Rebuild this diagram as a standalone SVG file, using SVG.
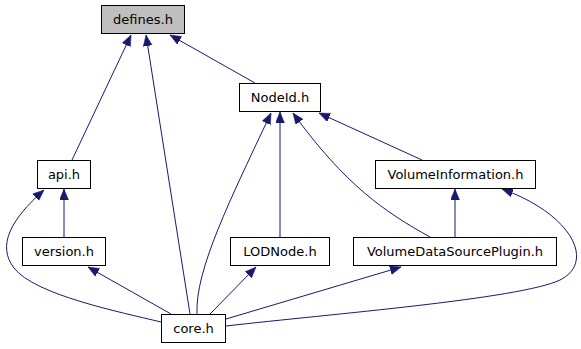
<svg xmlns="http://www.w3.org/2000/svg" width="581" height="349" viewBox="0 0 581 349">
  <style>
    .node rect { fill: #ffffff; stroke: #000000; stroke-width: 1; }
    .node.root rect { fill: #bfbfbf; }
    .node text { font-family: "DejaVu Sans", "Liberation Sans", sans-serif; font-size: 13px; fill: #000000; text-anchor: middle; }
    .edge { fill: none; stroke: #191970; stroke-width: 1; marker-end: url(#head); }
  </style>
  <defs>
    <marker id="head" markerUnits="userSpaceOnUse" markerWidth="12" markerHeight="10" refX="11" refY="4.5" orient="auto">
      <path d="M0,0 L11,4.5 L0,9 z" fill="#191970" stroke="#191970" stroke-width="0.5"/>
    </marker>
  </defs>

  <!-- include dependencies (drawn from includer to included header) -->
  <g id="edges">
    <path class="edge" d="M72,160 L131,35"/>
    <path class="edge" d="M190,314 L146,35"/>
    <path class="edge" d="M255,83 L170,35"/>
    <path class="edge" d="M64,237 L64,189"/>
    <path class="edge" d="M161,322 C120,312 35,295 14,268 C-3,246 10,220 44,190"/>
    <path class="edge" d="M171,314 L88,267"/>
    <path class="edge" d="M197,314 C195,270 230,200 271,113"/>
    <path class="edge" d="M280,237 L280,112"/>
    <path class="edge" d="M430,237 C385,212 345,185 293,113"/>
    <path class="edge" d="M422,160 L319,113"/>
    <path class="edge" d="M455,237 L455,189"/>
    <path class="edge" d="M226,319 L401,267"/>
    <path class="edge" d="M210,314 L256,267"/>
    <path class="edge" d="M226,326 C330,314 520,299 560,280 C596,262 572,214 502,189"/>
  </g>

  <g id="defines_h" class="node root">
    <rect x="101.5" y="5.5" width="83" height="28"/>
    <text x="143" y="24">defines.h</text>
  </g>
  <g id="NodeId_h" class="node">
    <rect x="239.5" y="83.5" width="81" height="28"/>
    <text x="280" y="102">NodeId.h</text>
  </g>
  <g id="api_h" class="node">
    <rect x="37.5" y="160.5" width="53" height="28"/>
    <text x="64" y="179">api.h</text>
  </g>
  <g id="VolumeInformation_h" class="node">
    <rect x="375.5" y="160.5" width="160" height="28"/>
    <text x="455.5" y="179">VolumeInformation.h</text>
  </g>
  <g id="version_h" class="node">
    <rect x="22.5" y="237.5" width="83" height="28"/>
    <text x="64" y="256">version.h</text>
  </g>
  <g id="LODNode_h" class="node">
    <rect x="230.5" y="237.5" width="99" height="28"/>
    <text x="280" y="256">LODNode.h</text>
  </g>
  <g id="VolumeDataSourcePlugin_h" class="node">
    <rect x="353.5" y="237.5" width="203" height="28"/>
    <text x="455" y="256">VolumeDataSourcePlugin.h</text>
  </g>
  <g id="core_h" class="node">
    <rect x="161.5" y="314.5" width="64" height="28"/>
    <text x="193.5" y="333">core.h</text>
  </g>
</svg>
